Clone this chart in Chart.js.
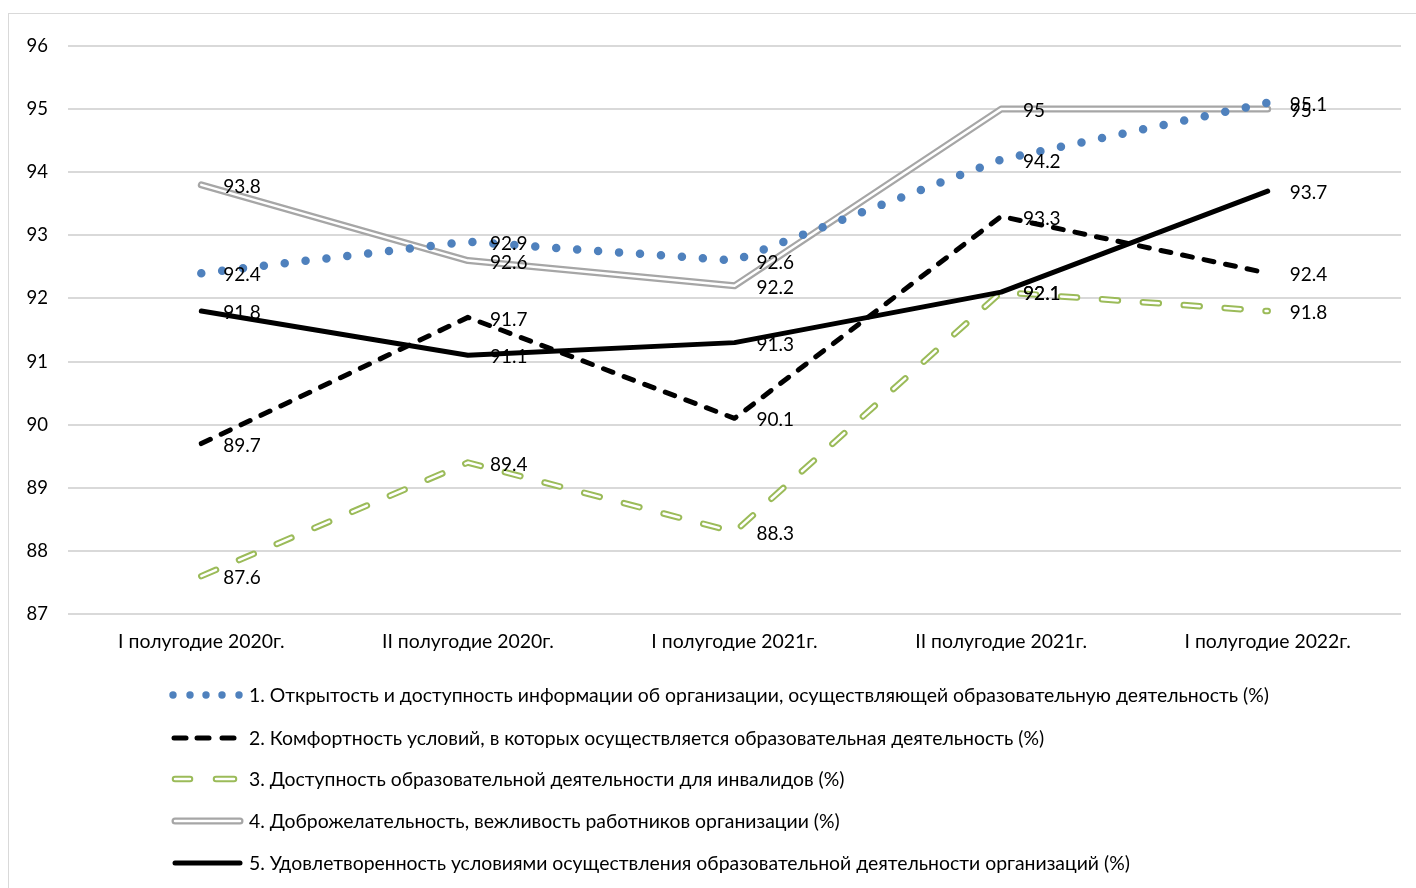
<!DOCTYPE html>
<html>
<head>
<meta charset="utf-8">
<script src="https://cdn.jsdelivr.net/npm/chart.js@4/dist/chart.umd.min.js"></script>
<style>
  html, body { margin: 0; padding: 0; background: #fff; overflow: hidden; }
  #wrap { position: relative; width: 1416px; height: 888px; }
  #frame { position: absolute; left: 8px; top: 13px; width: 1420px; height: 900px; border: 1px solid #d9d9d9; box-sizing: border-box; }
  canvas { position: absolute; left: 0; top: 0; }
</style>
</head>
<body>
<div id="wrap">
  <div id="frame"></div>
  <canvas id="c" width="1416" height="888"></canvas>
</div>
<script>
const categories = ["I полугодие 2020г.", "II полугодие 2020г.", "I полугодие 2021г.", "II полугодие 2021г.", "I полугодие 2022г."];
const seriesNames = [
  "1. Открытость и доступность информации об организации, осуществляющей образовательную деятельность (%)",
  "2. Комфортность условий, в которых осуществляется образовательная деятельность (%)",
  "3. Доступность образовательной деятельности для инвалидов (%)",
  "4. Доброжелательность, вежливость работников организации (%)",
  "5. Удовлетворенность условиями осуществления образовательной деятельности организаций (%)"
];
const openness = [92.4, 92.9, 92.6, 94.2, 95.1];
const comfort = [89.7, 91.7, 90.1, 93.3, 92.4];
const accessibility = [87.6, 89.4, 88.3, 92.1, 91.8];
const kindness = [93.8, 92.6, 92.2, 95, 95];
const satisfaction = [91.8, 91.1, 91.3, 92.1, 93.7];
const yTicks = [87, 88, 89, 90, 91, 92, 93, 94, 95, 96];

const FONT = "Lato, 'Noto Sans', sans-serif";
const FS = 19.4;
const BLUE = '#4f81bd', GREEN = '#9bbb59', GRAY = '#a6a6a6';

function ds(data, color, width, dash, order, extra) {
  return Object.assign({
    data: data, borderColor: color, borderWidth: width, borderDash: dash,
    borderCapStyle: 'round', borderJoinStyle: 'round', pointRadius: 0,
    tension: 0, fill: false, order: order
  }, extra || {});
}

const datasets = [
  ds(openness, BLUE, 8.5, [0, 21], 1, { label: 'S1', lbl: true }),
  ds(kindness, '#ffffff', 2.5, [], 2, { label: 'S4w' }),
  ds(kindness, GRAY, 7, [], 3, { label: 'S4', lbl: true }),
  ds(satisfaction, '#000000', 5, [], 4, { label: 'S5', lbl: true }),
  ds(comfort, '#000000', 5, [10, 12], 5, { label: 'S2', lbl: true }),
  ds(accessibility, '#ffffff', 2.5, [16, 25], 6, { label: 'S3w' }),
  ds(accessibility, GREEN, 6.5, [16, 25], 7, { label: 'S3', lbl: true })
];

const labelPlugin = {
  id: 'valueLabels',
  afterDatasetsDraw(chart) {
    const ctx = chart.ctx;
    ctx.save();
    ctx.font = '19px ' + FONT;
    ctx.fillStyle = '#000';
    ctx.textAlign = 'left';
    ctx.textBaseline = 'middle';
    chart.data.datasets.forEach((d, i) => {
      if (!d.lbl) return;
      const meta = chart.getDatasetMeta(i);
      meta.data.forEach((pt, j) => {
        ctx.fillText(String(d.data[j]), pt.x + 22, pt.y + 2);
      });
    });
    ctx.restore();
  }
};

const legendPlugin = {
  id: 'customLegend',
  afterDraw(chart) {
    const ctx = chart.ctx;
    const rows = [695, 738, 779, 821, 863];
    const tx = 249;
    ctx.save();
    ctx.lineCap = 'round';
    ctx.fillStyle = BLUE;
    [173, 190, 206, 222, 239].forEach(x => { ctx.beginPath(); ctx.arc(x, rows[0], 3.7, 0, Math.PI * 2); ctx.fill(); });
    ctx.strokeStyle = '#000'; ctx.lineWidth = 5;
    [[174, 186], [197, 209], [222, 234]].forEach(s => { ctx.beginPath(); ctx.moveTo(s[0], rows[1]); ctx.lineTo(s[1], rows[1]); ctx.stroke(); });
    [[175, 190], [216, 234]].forEach(s => {
      ctx.strokeStyle = GREEN; ctx.lineWidth = 6.5; ctx.beginPath(); ctx.moveTo(s[0], rows[2]); ctx.lineTo(s[1], rows[2]); ctx.stroke();
      ctx.strokeStyle = '#fff'; ctx.lineWidth = 2.5; ctx.beginPath(); ctx.moveTo(s[0], rows[2]); ctx.lineTo(s[1], rows[2]); ctx.stroke();
    });
    ctx.strokeStyle = GRAY; ctx.lineWidth = 7; ctx.beginPath(); ctx.moveTo(175, rows[3]); ctx.lineTo(240, rows[3]); ctx.stroke();
    ctx.strokeStyle = '#fff'; ctx.lineWidth = 2.5; ctx.beginPath(); ctx.moveTo(175, rows[3]); ctx.lineTo(240, rows[3]); ctx.stroke();
    ctx.strokeStyle = '#000'; ctx.lineWidth = 5; ctx.beginPath(); ctx.moveTo(175, rows[4]); ctx.lineTo(240, rows[4]); ctx.stroke();
    ctx.font = FS + 'px ' + FONT;
    ctx.fillStyle = '#000';
    ctx.textBaseline = 'middle';
    ctx.textAlign = 'left';
    seriesNames.forEach((t, i) => ctx.fillText(t, tx, rows[i] + 1));
    ctx.restore();
  }
};

new Chart(document.getElementById('c'), {
  type: 'line',
  data: { labels: categories, datasets: datasets },
  options: {
    responsive: false,
    animation: false,
    events: [],
    layout: { padding: { left: 0, right: 15, top: 46, bottom: 0 } },
    plugins: { legend: { display: false }, tooltip: { enabled: false } },
    scales: {
      x: {
        offset: true,
        grid: { display: false, drawTicks: false },
        border: { display: false },
        ticks: { color: '#000', font: { family: FONT, size: FS }, padding: 16, maxRotation: 0 },
        afterFit(s) { s.height = 274; }
      },
      y: {
        min: 87, max: 96,
        afterBuildTicks(s) { s.ticks = yTicks.map(v => ({ value: v })); },
        grid: { color: '#d9d9d9', lineWidth: 2, drawTicks: false },
        border: { display: false },
        ticks: { color: '#000', font: { family: FONT, size: 18.5 }, padding: 20 },
        afterFit(s) { s.width = 68; }
      }
    }
  },
  plugins: [labelPlugin, legendPlugin]
});
</script>
</body>
</html>
